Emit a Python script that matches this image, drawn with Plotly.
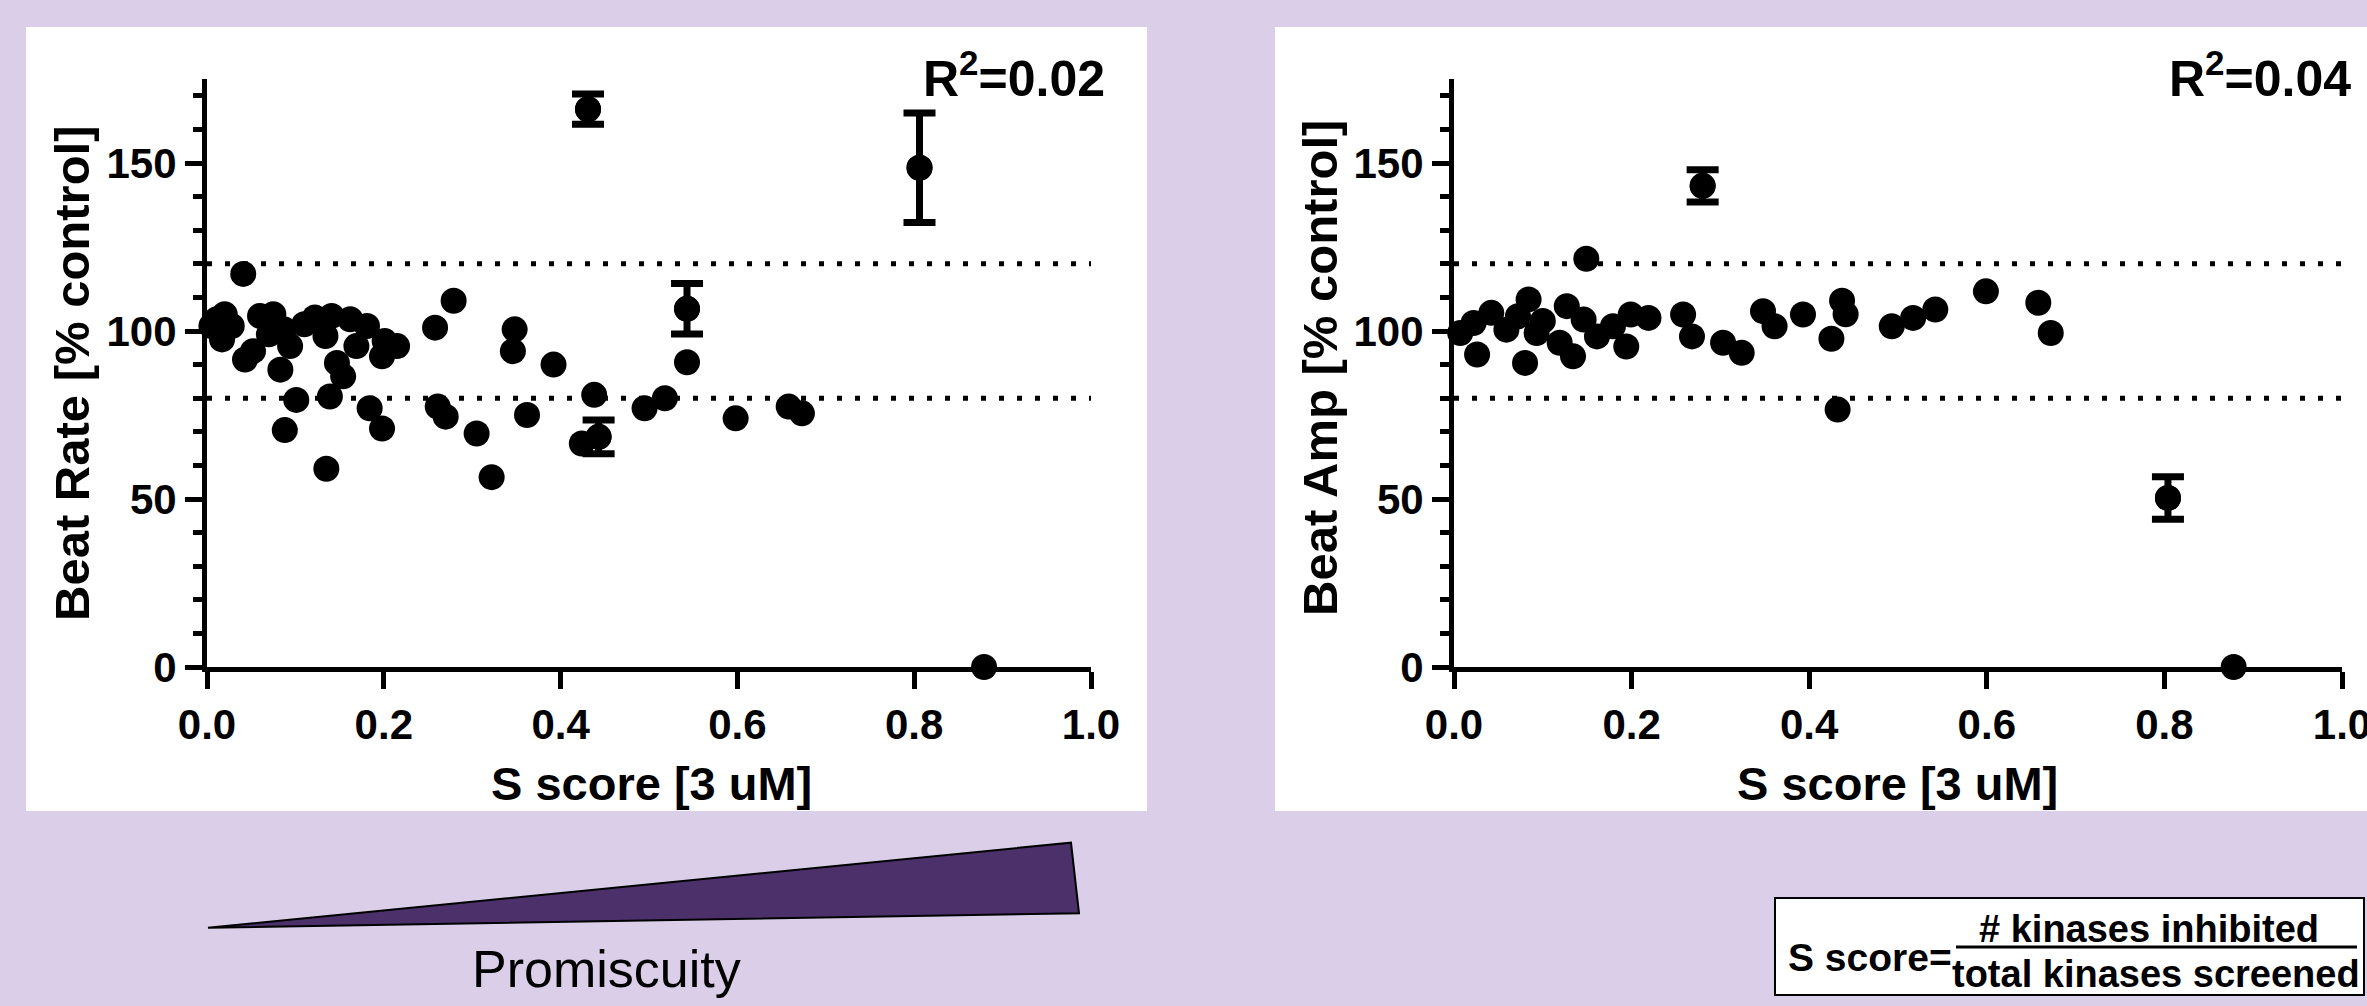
import plotly.graph_objects as go

W, H = 2367, 1006
BG = "#DACEE8"
PURPLE = "#4B3069"
FONT = "Liberation Sans, Arial, Helvetica, sans-serif"

# ---------------- data ----------------
# Left panel: Beat Rate vs S score
rate_s = [0.005, 0.011, 0.017, 0.020, 0.028, 0.041, 0.043, 0.052, 0.060, 0.070,
          0.075, 0.083, 0.087, 0.088, 0.094, 0.101, 0.110, 0.122, 0.134, 0.135,
          0.139, 0.141, 0.147, 0.154, 0.162, 0.169, 0.181, 0.184, 0.198, 0.198,
          0.201, 0.215, 0.258, 0.261, 0.270, 0.279, 0.305, 0.322, 0.346, 0.348,
          0.362, 0.392, 0.424, 0.431, 0.438, 0.443, 0.495, 0.518, 0.543, 0.543,
          0.598, 0.658, 0.673, 0.806, 0.879]
rate_v = [101.5, 103.5, 97.5, 105.0, 101.5, 117.0, 91.5, 94.0, 104.5, 99.0,
          105.0, 88.5, 100.5, 70.5, 95.5, 79.5, 102.0, 104.0, 98.5, 59.0,
          80.5, 104.5, 90.5, 86.5, 103.5, 95.5, 101.5, 77.0, 71.0, 92.5,
          97.0, 95.5, 101.0, 77.5, 74.5, 109.0, 69.5, 56.5, 94.0, 100.5,
          75.0, 90.0, 66.5, 166.0, 81.0, 68.5, 77.0, 80.0, 90.7, 106.6,
          74.0, 77.5, 75.5, 148.6, 0.0]
rate_err = [0, 0, 0, 0, 0, 0, 0, 0, 0, 0,
            0, 0, 0, 0, 0, 0, 0, 0, 0, 0,
            0, 0, 0, 0, 0, 0, 0, 0, 0, 0,
            0, 0, 0, 0, 0, 0, 0, 0, 0, 0,
            0, 0, 0, 4.5, 0, 5.0, 0, 0, 0, 7.5,
            0, 0, 0, 16.3, 0]

# Right panel: Beat Amp vs S score
amp_s = [0.007, 0.022, 0.026, 0.042, 0.059, 0.072, 0.080, 0.084, 0.093, 0.100,
         0.119, 0.127, 0.134, 0.146, 0.149, 0.161, 0.179, 0.194, 0.199, 0.219,
         0.258, 0.268, 0.280, 0.303, 0.324, 0.348, 0.361, 0.393, 0.425, 0.432,
         0.437, 0.441, 0.493, 0.517, 0.542, 0.599, 0.658, 0.672, 0.804, 0.878]
amp_v = [99.4, 102.4, 93.0, 105.4, 100.4, 104.4, 90.5, 109.4, 99.4, 103.0,
         96.5, 107.4, 92.5, 103.4, 121.5, 98.4, 101.4, 95.4, 104.9, 103.9,
         104.9, 98.4, 143.2, 96.5, 93.5, 105.9, 101.4, 104.9, 97.7, 76.6,
         109.0, 105.0, 101.4, 103.9, 106.4, 111.8, 108.4, 99.4, 50.3, 0.0]
amp_err = [0, 0, 0, 0, 0, 0, 0, 0, 0, 0,
           0, 0, 0, 0, 0, 0, 0, 0, 0, 0,
           0, 0, 4.8, 0, 0, 0, 0, 0, 0, 0,
           0, 0, 0, 0, 0, 0, 0, 0, 6.3, 0]

x_tickvals = [0.0, 0.2, 0.4, 0.6, 0.8, 1.0]
x_ticktext = ["0.0", "0.2", "0.4", "0.6", "0.8", "1.0"]
y_tickvals = [0, 50, 100, 150]
y_ticktext = ["0", "50", "100", "150"]
thresholds = [120, 80]
r2_values = ["0.02", "0.04"]
y_titles = ["Beat Rate [% control]", "Beat Amp [% control]"]
x_title = "S score [3 uM]"


def px(x):
    return x / W


def py(y):
    return 1 - y / H


fig = go.Figure()

panels = [
    ("x", "y", rate_s, rate_v, rate_err),
    ("x2", "y2", amp_s, amp_v, amp_err),
]
for xa, ya, s, v, e in panels:
    fig.add_trace(go.Scatter(
        x=s, y=v, mode="markers", xaxis=xa, yaxis=ya,
        marker=dict(color="black", size=26, line=dict(width=0)),
        cliponaxis=False, showlegend=False, hoverinfo="x+y"))
    es = [si for si, ei in zip(s, e) if ei > 0]
    ev = [vi for vi, ei in zip(v, e) if ei > 0]
    ee = [ei for ei in e if ei > 0]
    fig.add_trace(go.Scatter(
        x=es, y=ev, mode="markers", xaxis=xa, yaxis=ya,
        marker=dict(color="black", size=26),
        error_y=dict(type="data", array=ee, visible=True, color="black",
                     thickness=7, width=16),
        cliponaxis=False, showlegend=False))

tickfont = dict(family=FONT, size=42, color="black", weight="bold")


def xaxis(domain, anchor):
    return dict(domain=domain, anchor=anchor, range=[0, 1], showline=True,
                linecolor="black", linewidth=5, ticks="outside", ticklen=17,
                tickwidth=5, tickcolor="black", tickmode="array",
                tickvals=x_tickvals, ticktext=x_ticktext, showgrid=False,
                zeroline=False, tickfont=tickfont, fixedrange=True,
                automargin=False, ticklabeloverflow="allow")


def yaxis(domain, anchor):
    return dict(domain=domain, anchor=anchor, range=[0, 175], showline=True,
                linecolor="black", linewidth=5, ticks="outside", ticklen=17,
                tickwidth=5, tickcolor="black", tickmode="array",
                tickvals=y_tickvals, ticktext=y_ticktext, showgrid=False,
                zeroline=False, tickfont=tickfont, fixedrange=True,
                automargin=False, ticklabeloverflow="allow",
                minor=dict(dtick=10, tick0=0, ticks="outside", ticklen=9,
                           tickwidth=5, tickcolor="black", showgrid=False))


ydom = [py(667), py(79)]
fig.update_layout(
    width=W, height=H,
    autosize=False,
    margin=dict(l=0, r=0, t=0, b=0, pad=0, autoexpand=False),
    paper_bgcolor=BG,
    plot_bgcolor="rgba(0,0,0,0)",
    xaxis=xaxis([px(207), px(1091)], "y"),
    yaxis=yaxis(ydom, "x"),
    xaxis2=xaxis([px(1454), px(2342)], "y2"),
    yaxis2=yaxis(ydom, "x2"),
    showlegend=False,
)

shapes = []
# white panels
shapes.append(dict(type="rect", xref="paper", yref="paper",
                   x0=px(26), x1=px(1147), y0=py(811), y1=py(27),
                   fillcolor="white", line=dict(width=0), layer="below"))
shapes.append(dict(type="rect", xref="paper", yref="paper",
                   x0=px(1275), x1=px(2380), y0=py(811), y1=py(27),
                   fillcolor="white", line=dict(width=0), layer="below"))
# dotted threshold lines
for xa, ya in [("x", "y"), ("x2", "y2")]:
    for t in thresholds:
        shapes.append(dict(type="line", xref=xa, yref=ya, x0=0, x1=1, y0=t, y1=t,
                           line=dict(color="black", width=5, dash="5px,13px"),
                           layer="below"))
# promiscuity wedge
shapes.append(dict(type="path", xref="paper", yref="paper",
                   path=f"M {px(208)},{py(927.7)} L {px(1071)},{py(842.7)} "
                        f"L {px(1079)},{py(913.3)} Z",
                   fillcolor=PURPLE, line=dict(color="black", width=2)))
# S score definition box
shapes.append(dict(type="rect", xref="paper", yref="paper",
                   x0=px(1775), x1=px(2364), y0=py(995), y1=py(898),
                   fillcolor="white", line=dict(color="black", width=2)))
shapes.append(dict(type="line", xref="paper", yref="paper",
                   x0=px(1956), x1=px(2357), y0=py(947), y1=py(947),
                   line=dict(color="black", width=3)))
fig.update_layout(shapes=shapes)

bold = lambda size: dict(family=FONT, size=size, color="black", weight="bold")
ann = []
ann.append(dict(text=y_titles[0], x=px(71.5), y=py(373.5), textangle=-90,
                font=bold(49)))
ann.append(dict(text=y_titles[1], x=px(1320), y=py(368), textangle=-90,
                font=bold(49)))
ann.append(dict(text=x_title, x=px(651), y=py(783), font=bold(47)))
ann.append(dict(text=x_title, x=px(1897), y=py(783), font=bold(47)))
ann.append(dict(text=f"R<sup>2</sup>={r2_values[0]}", x=px(1107), y=py(75),
                xanchor="right", font=bold(50)))
ann.append(dict(text=f"R<sup>2</sup>={r2_values[1]}", x=px(2353), y=py(75),
                xanchor="right", font=bold(50)))
ann.append(dict(text="Promiscuity", x=px(606), y=py(969),
                font=dict(family=FONT, size=52, color="black")))
ann.append(dict(text="S score=", x=px(1786), y=py(957), xanchor="left",
                font=bold(39)))
ann.append(dict(text="# kinases inhibited", x=px(2149), y=py(929), font=bold(38)))
ann.append(dict(text="total kinases screened", x=px(2156), y=py(974), font=bold(38)))
for a in ann:
    a.setdefault("xref", "paper")
    a.setdefault("yref", "paper")
    a.setdefault("showarrow", False)
    a.setdefault("xanchor", "center")
    a.setdefault("yanchor", "middle")
fig.update_layout(annotations=ann)

fig.write_html(
    "out.html",
    config={"responsive": False, "displayModeBar": False},
    post_script=("document.body.style.margin='0';"
                 "document.body.style.padding='0';"
                 "document.body.style.overflow='hidden';"
                 f"document.body.style.background='{BG}';"),
)
